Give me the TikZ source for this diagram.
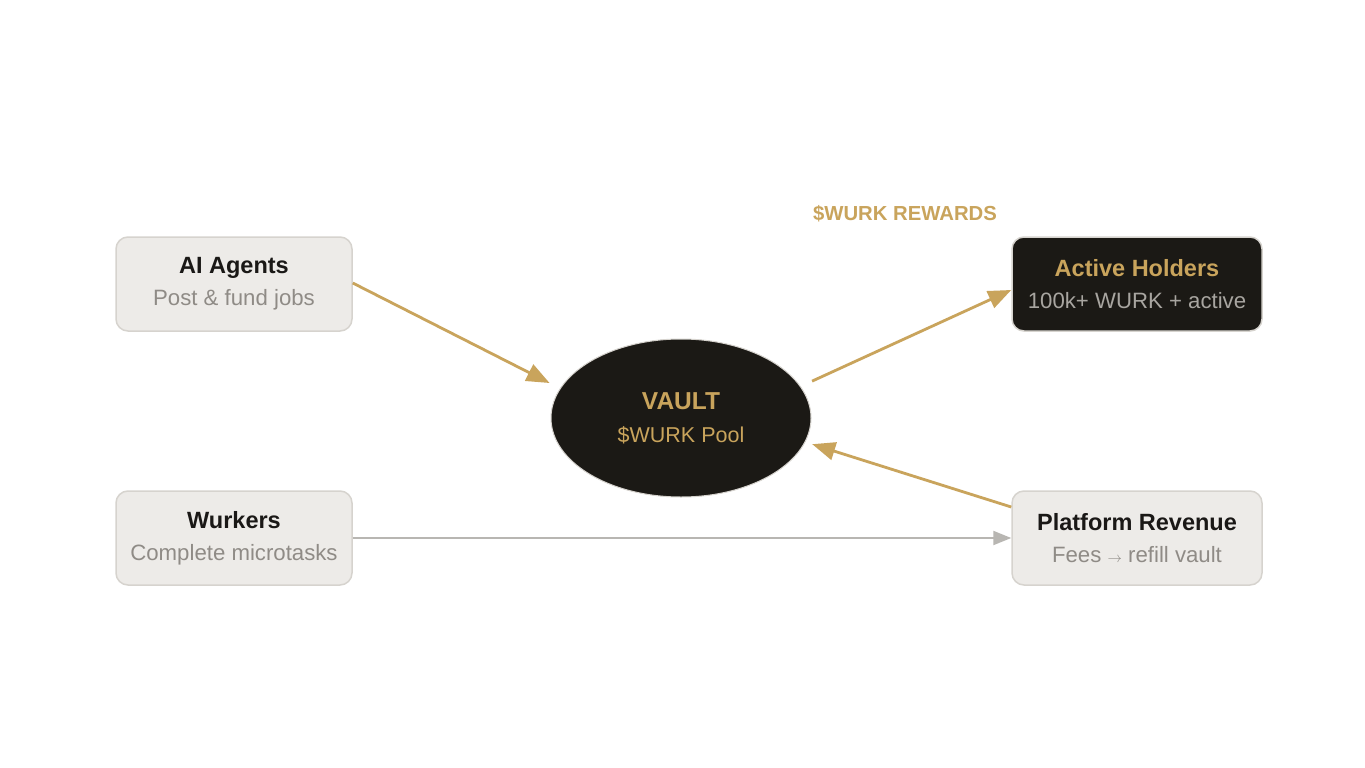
\documentclass[tikz,border=0pt]{standalone}
\usepackage{fontspec}
\setmainfont{Liberation Sans}
\usetikzlibrary{arrows.meta,shapes.geometric}
\definecolor{gold}{HTML}{C9A45C}
\definecolor{boxfill}{HTML}{EDEBE8}
\definecolor{boxline}{HTML}{D6D3CE}
\definecolor{dark}{HTML}{1B1915}
\definecolor{subgray}{HTML}{8F8B86}
\definecolor{subgraylight}{HTML}{A8A5A0}
\definecolor{linegray}{HTML}{B8B6B2}
\definecolor{titleblack}{HTML}{1A1816}
\newcommand{\ttl}[1]{{\fontsize{23.5}{32}\selectfont\bfseries #1}}
\newcommand{\sbt}[1]{{\fontsize{22.2}{32}\selectfont #1}}
\tikzset{
  card/.style={rectangle, rounded corners=12pt, minimum width=236pt, minimum height=94pt,
    fill=boxfill, draw=boxline, line width=1.5pt, align=center, inner sep=0pt,
    font=\fontsize{22}{32}\selectfont, text=titleblack},
  darkcard/.style={card, fill=dark, draw=boxline, minimum width=250pt},
  vaultshape/.style={ellipse, minimum width=260pt, minimum height=158pt, fill=dark,
    draw=boxline, line width=1pt, align=center, inner sep=0pt,
    font=\fontsize{21.5}{33}\selectfont, text=gold},
  goldarrow/.style={draw=gold, line width=2.8pt, -{Triangle[length=23pt,width=18pt]}},
  grayarrow/.style={draw=linegray, line width=2pt, -{Triangle[length=18pt,width=14pt]}},
}
\begin{document}
\begin{tikzpicture}[x=1pt,y=-1pt]
\useasboundingbox[fill=white] (0,0) rectangle (1365,768);
\node[card] (ai) at (234,284) {\ttl{AI Agents}\\{\color{subgray}\sbt{Post \& fund jobs}}};
\node[card] (wurk) at (234,538) {\ttl{Wurkers}\\{\color{subgray}\sbt{Complete microtasks}}};
\node[darkcard] (hold) at (1137,284) {{\color{gold}\ttl{Active Holders}}\\{\color{subgraylight}\sbt{100k+ WURK + active}}};
\node[card, minimum width=250pt] (plat) at (1137,538) {\ttl{Platform Revenue}\\{\color{subgray}\sbt{Fees {\fontsize{15}{15}\selectfont$\rightarrow$} refill vault}}};
\node[vaultshape] (vault) at (681,418) {{\fontsize{24.5}{33}\selectfont\bfseries VAULT}\\\$WURK Pool};
\node[text=gold, font=\fontsize{20.3}{22}\selectfont\bfseries] (rew) at (905,214) {\$WURK REWARDS};
\draw[goldarrow] ([yshift=1pt]ai.east) -- ([xshift=-12pt,yshift=3pt]vault.165);
\draw[goldarrow] ([xshift=13pt,yshift=3pt]vault.16) -- ([yshift=-6pt]hold.west);
\draw[goldarrow] ([yshift=31pt]plat.west) -- ([xshift=8pt]vault.-12);
\draw[grayarrow] (wurk.east) -- (plat.west);
\end{tikzpicture}
\end{document}
